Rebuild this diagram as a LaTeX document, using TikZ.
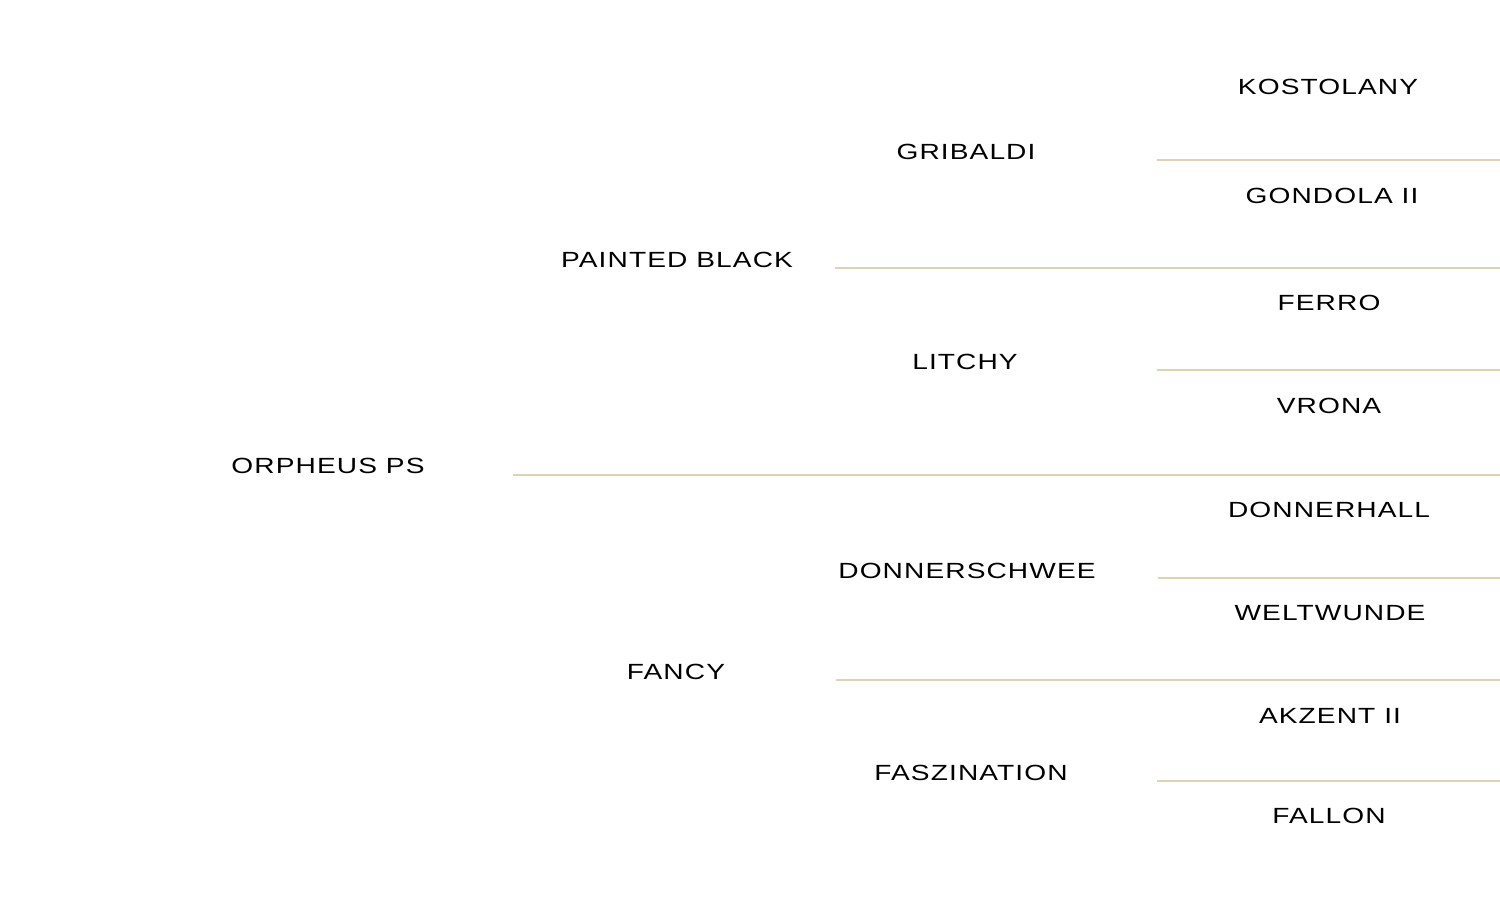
\documentclass[tikz,border=0pt]{standalone}
\usepackage{fontspec}
\setmainfont[FakeStretch=1.28,LetterSpace=5]{Liberation Sans}
\definecolor{sandline}{HTML}{DDD3B0}

\begin{document}
\begin{tikzpicture}[x=0.02cm,y=-0.02cm,
  every node/.style={align=center,font=\fontsize{12.5}{14}\selectfont,inner sep=0pt},
  rule/.style={draw=sandline,line width=1.1pt}
]
\useasboundingbox (0,0) rectangle (1500,900);
% generation 1
\node (orpheus) at (328,466) {ORPHEUS PS};
% generation 2
\node (painted) at (677,260) {PAINTED BLACK};
\node (fancy) at (676,672) {FANCY};
% generation 3
\node (gribaldi) at (966,152) {GRIBALDI};
\node (litchy) at (965,362) {LITCHY};
\node (donnerschwee) at (967,571) {DONNERSCHWEE};
\node (faszination) at (971,773) {FASZINATION};
% generation 4
\node (kostolany) at (1328,87) {KOSTOLANY};
\node (gondola) at (1332,196) {GONDOLA II};
\node (ferro) at (1329,303) {FERRO};
\node (vrona) at (1329,406) {VRONA};
\node (donnerhall) at (1329,510) {DONNERHALL};
\node (weltwunde) at (1330,613) {WELTWUNDE};
\node (akzent) at (1330,716) {AKZENT II};
\node (fallon) at (1329,816) {FALLON};
% separators
\coordinate (s1) at (513,475); \coordinate (e1) at (1500,475);
\coordinate (s2a) at (835,268); \coordinate (e2a) at (1500,268);
\coordinate (s2b) at (836,680); \coordinate (e2b) at (1500,680);
\coordinate (s3a) at (1157,160); \coordinate (e3a) at (1500,160);
\coordinate (s3b) at (1157,370); \coordinate (e3b) at (1500,370);
\coordinate (s3c) at (1158,578); \coordinate (e3c) at (1500,578);
\coordinate (s3d) at (1157,781); \coordinate (e3d) at (1500,781);
\draw[rule] (s1) -- (e1);
\draw[rule] (s2a) -- (e2a);
\draw[rule] (s2b) -- (e2b);
\draw[rule] (s3a) -- (e3a);
\draw[rule] (s3b) -- (e3b);
\draw[rule] (s3c) -- (e3c);
\draw[rule] (s3d) -- (e3d);
\end{tikzpicture}
\end{document}
